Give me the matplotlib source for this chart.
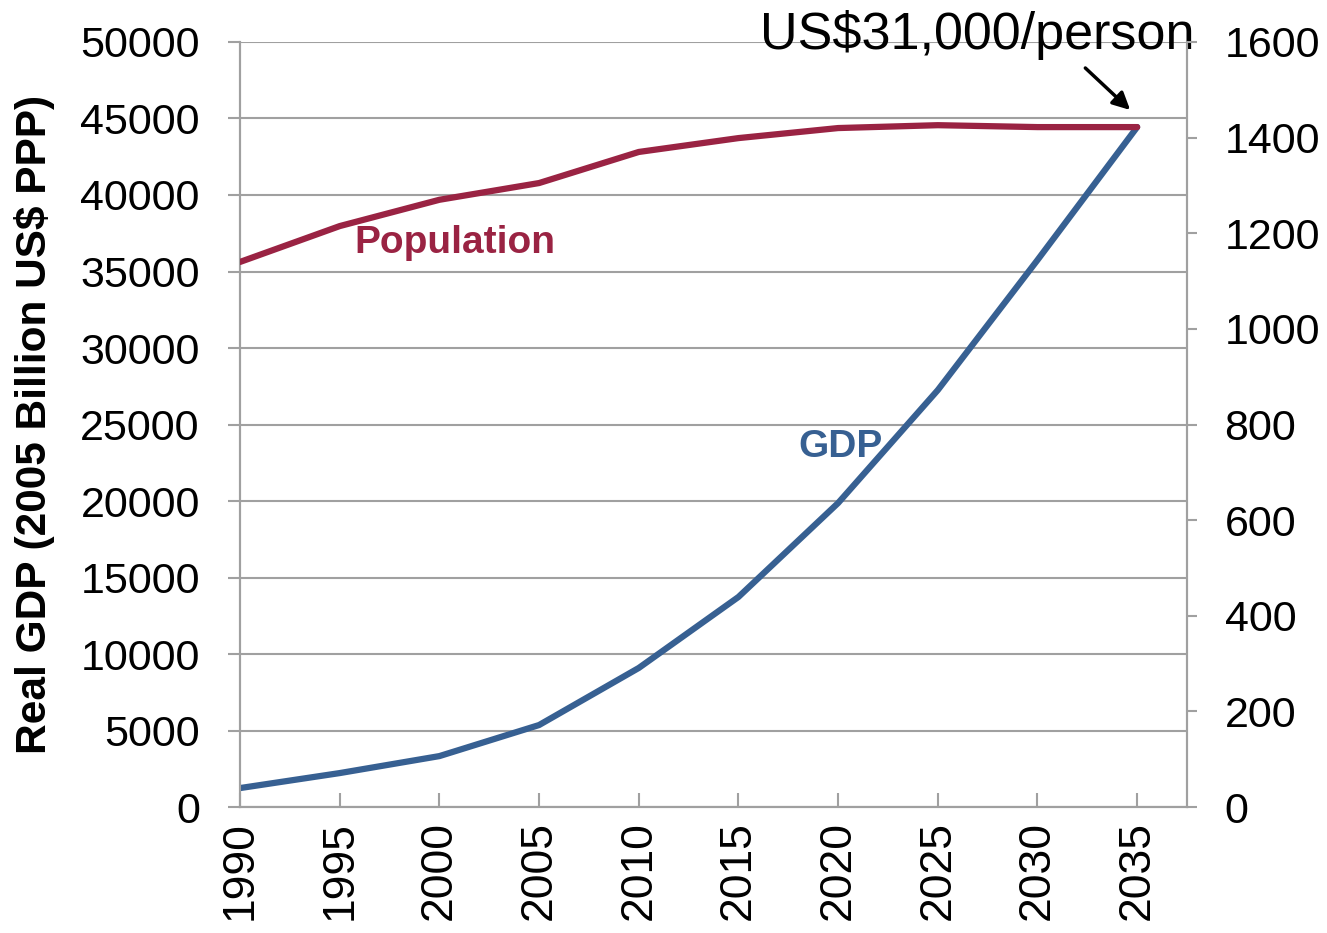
import matplotlib
matplotlib.use('Agg')
import matplotlib.pyplot as plt

# data
years = [1990, 1995, 2000, 2005, 2010, 2015, 2020, 2025, 2030, 2035]
gdp = [1240, 2220, 3330, 5360, 9090, 13730, 19870, 27250, 35750, 44440]
population = [1140, 1215, 1270, 1305, 1370, 1399, 1420, 1426, 1422, 1422]

plt.rcParams['font.family'] = ['Liberation Sans', 'DejaVu Sans']

gdp_col = '#376092'
pop_col = '#9A2343'
grid_col = '#A0A0A0'

fig = plt.figure(figsize=(13.27, 9.33), dpi=100)
ax = fig.add_axes([0.1809, 0.135, 0.7136, 0.82])
ax2 = ax.twinx()

ax.plot(years, gdp, color=gdp_col, lw=4.5, solid_capstyle='round', zorder=3)
ax2.plot(years, population, color=pop_col, lw=4.5, solid_capstyle='round', zorder=3)

ax.set_xlim(1990, 2037.5)
ax.set_ylim(0, 50000)
ax2.set_ylim(0, 1600)
ax.set_yticks(range(0, 50001, 5000))
ax2.set_yticks(range(0, 1601, 200))
ax.set_xticks(years)
ax.set_xticklabels([str(y) for y in years], rotation=90)

ax.grid(axis='y', color=grid_col, lw=1.5)
ax.set_axisbelow(True)

for a in (ax, ax2):
    a.spines['top'].set_visible(False)
    for s in ('left', 'right', 'bottom'):
        a.spines[s].set_color(grid_col)
        a.spines[s].set_linewidth(1.5)

ax.tick_params(axis='y', labelsize=31, length=9, width=1.5, color=grid_col, pad=20)
ax.tick_params(axis='x', labelsize=32, length=10, width=1.5, color=grid_col,
               direction='in', pad=10)
ax2.tick_params(axis='y', labelsize=31, length=7, width=1.5, color=grid_col, pad=20)

ax.set_ylabel('Real GDP (2005 Billion US$ PPP)', fontsize=30.5, fontweight='bold',
              labelpad=18)

ax2.text(2000.8, 1180, 'Population', color=pop_col, fontsize=28, fontweight='bold',
         ha='center', va='center')
ax.text(2020.1, 23530, 'GDP', color=gdp_col, fontsize=28, fontweight='bold',
        ha='center', va='center')

ax.text(2027.0, 50460, 'US$31,000/person', fontsize=37.5, ha='center', va='center')
ax.annotate('', xy=(2034.65, 45556), xytext=(2032.4, 48300), annotation_clip=False,
            arrowprops=dict(arrowstyle='-|>', color='black', lw=2.5,
                            mutation_scale=26, shrinkA=0, shrinkB=0))

fig.savefig('out.png', dpi=100)
